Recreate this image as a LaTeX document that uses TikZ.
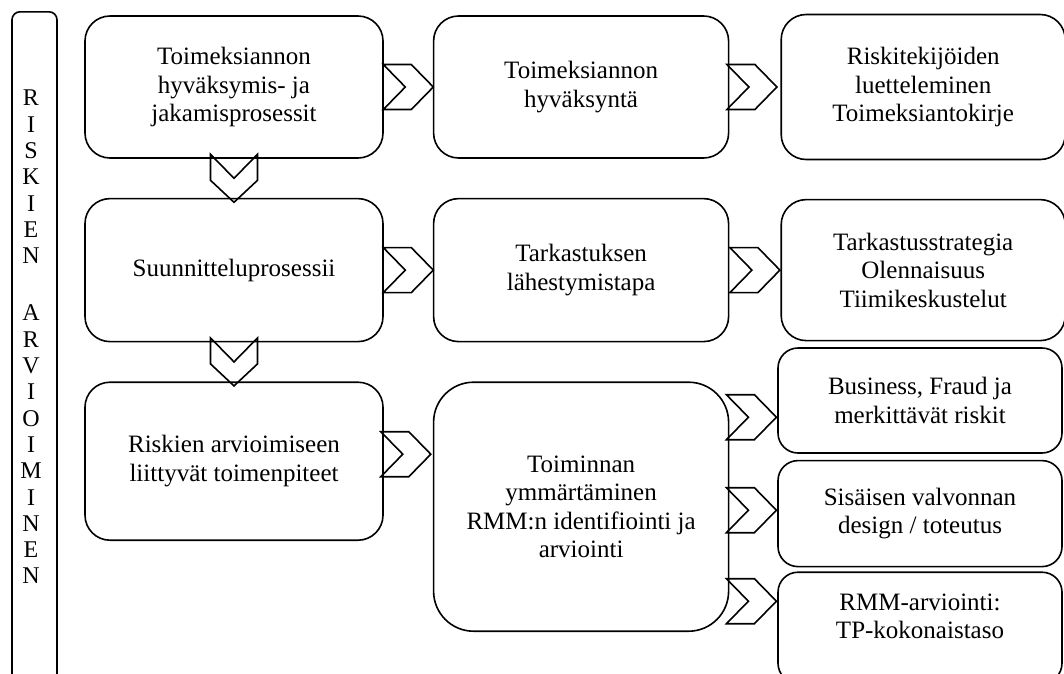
\documentclass[tikz,border=0pt]{standalone}
\usepackage{fontspec}
\setmainfont{Liberation Serif}
\usetikzlibrary{positioning,calc}

\begin{document}
\begin{tikzpicture}[x=1pt,y=-1pt,line width=1.6pt,
    box/.style={draw, rounded corners=25pt, align=center, inner sep=0pt,
      minimum width=298pt, minimum height=142pt, font=\fontsize{25}{28.5}\selectfont},
    mbox/.style={box, minimum width=295pt},
    rbox/.style={box, minimum width=284pt},
    sbox/.style={rbox, rounded corners=20pt, minimum height=105pt},
    chevr/.pic={\draw (-25,-22.5) -- (3,-22.5) -- (25,0) -- (3,22.5) -- (-25,22.5) -- (-3,0) -- cycle;},
    chevd/.pic={\draw (-23.5,-24) -- (-23.5,2) -- (0,24) -- (23.5,2) -- (23.5,-24) -- (0,0) -- cycle;}]
        \path[use as bounding box] (0,0) rectangle (1064,673);
        \clip (0,0) rectangle (1064,673);

        \node[draw, rounded corners=8pt, minimum width=45pt, minimum height=700pt, anchor=north] (side) at (34.5,11) {};
        \node[font=\fontsize{24}{26.3}\selectfont, align=center, inner sep=0pt] (sidetxt) at (31,337)
            {R\\I\\S\\K\\I\\E\\N\\[31pt]A\\R\\V\\I\\O\\I\\M\\I\\N\\E\\N};

        \node[box] (A) at (234,87) {Toimeksiannon\\hyväksymis- ja\\jakamisprosessit};
        \node[mbox] (B) [right=49pt of A] {Toimeksiannon\\hyväksyntä};
        \node[rbox, minimum height=145pt] (C) [right=51pt of B] {Riskitekijöiden\\luetteleminen\\Toimeksiantokirje};

        \node[box, minimum height=143pt] (D) [below=39pt of A] {Suunnitteluprosessii};
        \node[mbox, minimum height=143pt] (E) [right=49pt of D] {Tarkastuksen\\lähestymistapa};
        \node[rbox, minimum height=141pt] (F) [right=51pt of E] {Tarkastusstrategia\\Olennaisuus\\Tiimikeskustelut};

        \node[box, minimum height=158pt] (G) [below=39pt of D] {Riskien arvioimiseen\\liittyvät toimenpiteet};
        \node[mbox, minimum height=249pt, rounded corners=40pt] (H) [right=49pt of G.north east, anchor=north west]
            {Toiminnan\\ymmärtäminen\\RMM:n identifiointi ja\\arviointi};

        \node[sbox] (I) at (920,400.5) {Business, Fraud ja\\merkittävät riskit};
        \node[sbox, minimum height=106pt] (J) [below=6pt of I] {Sisäisen valvonnan\\design / toteutus};
        \node[sbox, minimum height=111pt] (K) [below=4pt of J] {};
        \node[font=\fontsize{25}{28.5}\selectfont, align=center] (Ktxt) at ($(K.center)+(0,-11.5)$) {RMM-arviointi:\\TP-kokonaistaso};

        \pic at ($(A.east)!0.5!(B.west)$) {chevr};
        \pic at ($(B.east)!0.5!(C.west)+(-3,0)$) {chevr};
        \pic at ($(D.east)!0.5!(E.west)$) {chevr};
        \pic at ($(E.east)!0.5!(F.west)$) {chevr};
        \pic at ($(G.east)+(22,-7)$) {chevr};
        \foreach \dy in {-89.5,3.5,94.5}
            \pic at ($(H.east)+(22,\dy)$) {chevr};

        \pic at ($(A.south)!0.5!(D.north)$) {chevd};
        \pic at ($(D.south)!0.5!(G.north)$) {chevd};
\end{tikzpicture}
\end{document}
